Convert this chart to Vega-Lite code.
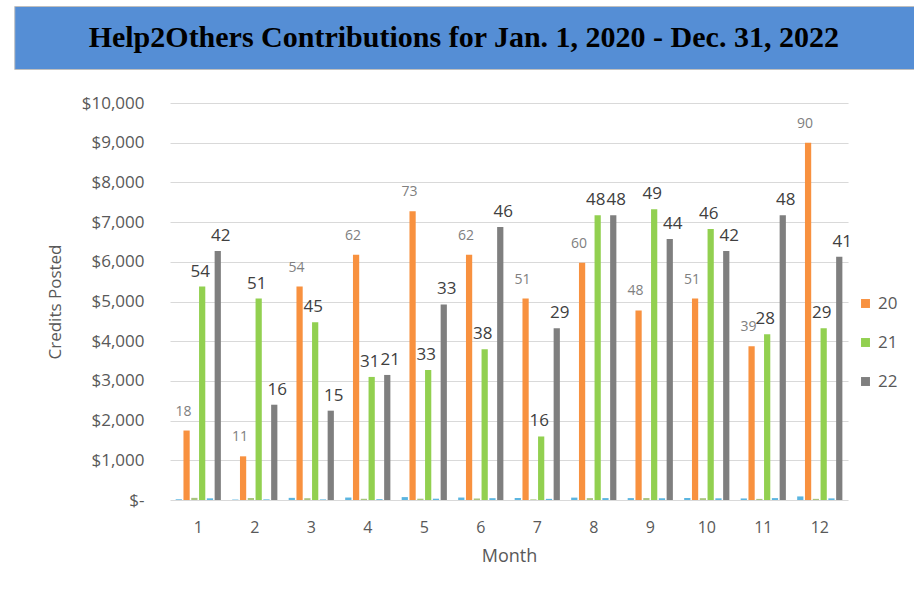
{
  "$schema": "https://vega.github.io/schema/vega-lite/v6.json",
  "padding": {"left": 13, "top": 5, "right": 0, "bottom": 0},
  "background": "white",
  "spacing": 24,
  "center": true,
  "config": {"view": {"stroke": null}, "font": "Open Sans"},
  "vconcat": [
    {
      "width": 993,
      "height": 63,
      "view": {"fill": "#558ED5", "stroke": "#BFBFBF"},
      "data": {"values": [{"t": "Help2Others Contributions for Jan. 1, 2020 - Dec. 31, 2022"}]},
      "mark": {"type": "text", "font": "Liberation Serif", "fontWeight": "bold", "fontSize": 30, "color": "black", "dx": -47},
      "encoding": {"text": {"field": "t"}}
    },
    {
      "width": 678,
      "height": 397,
      "data": {"values": [
        {"month": 1, "series": "c20", "value": 18}, {"month": 1, "series": "20", "value": 1750, "label": 18},
        {"month": 1, "series": "c21", "value": 54}, {"month": 1, "series": "21", "value": 5375, "label": 54},
        {"month": 1, "series": "c22", "value": 42}, {"month": 1, "series": "22", "value": 6275, "label": 42},
        {"month": 2, "series": "c20", "value": 11}, {"month": 2, "series": "20", "value": 1100, "label": 11},
        {"month": 2, "series": "c21", "value": 51}, {"month": 2, "series": "21", "value": 5075, "label": 51},
        {"month": 2, "series": "c22", "value": 16}, {"month": 2, "series": "22", "value": 2400, "label": 16},
        {"month": 3, "series": "c20", "value": 54}, {"month": 3, "series": "20", "value": 5375, "label": 54},
        {"month": 3, "series": "c21", "value": 45}, {"month": 3, "series": "21", "value": 4475, "label": 45},
        {"month": 3, "series": "c22", "value": 15}, {"month": 3, "series": "22", "value": 2250, "label": 15},
        {"month": 4, "series": "c20", "value": 62}, {"month": 4, "series": "20", "value": 6175, "label": 62},
        {"month": 4, "series": "c21", "value": 31}, {"month": 4, "series": "21", "value": 3100, "label": 31},
        {"month": 4, "series": "c22", "value": 21}, {"month": 4, "series": "22", "value": 3150, "label": 21},
        {"month": 5, "series": "c20", "value": 73}, {"month": 5, "series": "20", "value": 7275, "label": 73},
        {"month": 5, "series": "c21", "value": 33}, {"month": 5, "series": "21", "value": 3275, "label": 33},
        {"month": 5, "series": "c22", "value": 33}, {"month": 5, "series": "22", "value": 4925, "label": 33},
        {"month": 6, "series": "c20", "value": 62}, {"month": 6, "series": "20", "value": 6175, "label": 62},
        {"month": 6, "series": "c21", "value": 38}, {"month": 6, "series": "21", "value": 3800, "label": 38},
        {"month": 6, "series": "c22", "value": 46}, {"month": 6, "series": "22", "value": 6875, "label": 46},
        {"month": 7, "series": "c20", "value": 51}, {"month": 7, "series": "20", "value": 5075, "label": 51},
        {"month": 7, "series": "c21", "value": 16}, {"month": 7, "series": "21", "value": 1600, "label": 16},
        {"month": 7, "series": "c22", "value": 29}, {"month": 7, "series": "22", "value": 4325, "label": 29},
        {"month": 8, "series": "c20", "value": 60}, {"month": 8, "series": "20", "value": 5975, "label": 60},
        {"month": 8, "series": "c21", "value": 48}, {"month": 8, "series": "21", "value": 7175, "label": 48},
        {"month": 8, "series": "c22", "value": 48}, {"month": 8, "series": "22", "value": 7175, "label": 48},
        {"month": 9, "series": "c20", "value": 48}, {"month": 9, "series": "20", "value": 4775, "label": 48},
        {"month": 9, "series": "c21", "value": 49}, {"month": 9, "series": "21", "value": 7325, "label": 49},
        {"month": 9, "series": "c22", "value": 44}, {"month": 9, "series": "22", "value": 6575, "label": 44},
        {"month": 10, "series": "c20", "value": 51}, {"month": 10, "series": "20", "value": 5075, "label": 51},
        {"month": 10, "series": "c21", "value": 46}, {"month": 10, "series": "21", "value": 6825, "label": 46},
        {"month": 10, "series": "c22", "value": 42}, {"month": 10, "series": "22", "value": 6275, "label": 42},
        {"month": 11, "series": "c20", "value": 39}, {"month": 11, "series": "20", "value": 3875, "label": 39},
        {"month": 11, "series": "c21", "value": 28}, {"month": 11, "series": "21", "value": 4175, "label": 28},
        {"month": 11, "series": "c22", "value": 48}, {"month": 11, "series": "22", "value": 7175, "label": 48},
        {"month": 12, "series": "c20", "value": 90}, {"month": 12, "series": "20", "value": 9000, "label": 90},
        {"month": 12, "series": "c21", "value": 29}, {"month": 12, "series": "21", "value": 4325, "label": 29},
        {"month": 12, "series": "c22", "value": 41}, {"month": 12, "series": "22", "value": 6125, "label": 41}
      ]},
      "encoding": {
        "x": {"field": "month", "type": "ordinal",
          "scale": {"paddingInner": 0.2, "paddingOuter": 0.1},
          "axis": {"labelAngle": 0, "domain": false, "ticks": false, "labelPadding": 19, "labelFontSize": 16,
            "labelColor": "#595959", "title": "Month", "titleFontSize": 18, "titleFontWeight": "normal",
            "titleColor": "#595959", "titlePadding": 12}},
        "xOffset": {"field": "series", "type": "nominal", "sort": ["c20", "20", "c21", "21", "c22", "22"],
          "scale": {"paddingInner": 0.2}},
        "y": {"field": "value", "type": "quantitative",
          "scale": {"domain": [0, 10000]},
          "axis": {"values": [0, 1000, 2000, 3000, 4000, 5000, 6000, 7000, 8000, 9000, 10000],
            "labelExpr": "datum.value == 0 ? '$-' : '$' + format(datum.value, ',')",
            "domain": false, "ticks": false, "gridColor": "#D9D9D9", "labelPadding": 26, "labelFontSize": 17,
            "labelColor": "#595959", "title": "Credits Posted", "titleFontSize": 17, "titleFontWeight": "normal",
            "titleColor": "#595959", "titlePadding": 17}}
      },
      "layer": [
        {
          "mark": {"type": "bar"},
          "encoding": {
            "color": {"field": "series", "type": "nominal",
              "scale": {"domain": ["c20", "20", "c21", "21", "c22", "22"],
                "range": ["#5BB5E0", "#F8913F", "#A9C47F", "#92D050", "#5BB5E0", "#7F7F7F"]},
              "legend": {"values": ["20", "21", "22"], "orient": "none", "legendX": 843, "legendY": 289,
                "title": null, "symbolType": "square", "symbolSize": 80, "symbolStrokeWidth": 0,
                "labelFontSize": 17, "labelColor": "#595959", "rowPadding": 21}}
          }
        },
        {
          "transform": [{"filter": "datum.series == '20'"}],
          "mark": {"type": "text", "fontSize": 14, "color": "#808080", "baseline": "alphabetic", "dy": -15, "dx": -3},
          "encoding": {"text": {"field": "label", "type": "nominal"}}
        },
        {
          "transform": [{"filter": "datum.series == '21'"}],
          "mark": {"type": "text", "fontSize": 17, "color": "#404040", "baseline": "alphabetic", "dy": -10, "dx": -2},
          "encoding": {"text": {"field": "label", "type": "nominal"}}
        },
        {
          "transform": [{"filter": "datum.series == '22'"}],
          "mark": {"type": "text", "fontSize": 17, "color": "#404040", "baseline": "alphabetic", "dy": -10, "dx": 3},
          "encoding": {"text": {"field": "label", "type": "nominal"}}
        }
      ]
    }
  ]
}
